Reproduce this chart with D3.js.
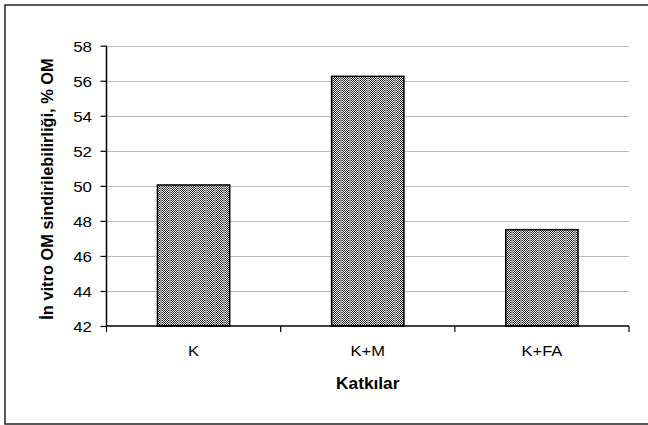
<!DOCTYPE html>
<html><head><meta charset="utf-8">
<script src="https://cdn.jsdelivr.net/npm/d3@7"></script>
<style>html,body{margin:0;padding:0;background:#fff;}svg{display:block;font-family:Arial,"Liberation Sans",sans-serif;}</style>
</head><body>
<svg id="c" width="648" height="425"></svg>
<script>
const categories = ["K", "K+M", "K+FA"];
const values = [50.05, 56.25, 47.5];
const yTicks = [42, 44, 46, 48, 50, 52, 54, 56, 58];
const yLabel = "İn vitro OM sindirilebilirliği, % OM";
const xLabel = "Katkılar";

const svg = d3.select("#c");
const L = 106.5, R = 629, T = 45.7, B = 326;
const FF = "Arial,'Liberation Sans',sans-serif";

// pattern
const defs = svg.append("defs");
const pat = defs.append("pattern").attr("id","pt").attr("patternUnits","userSpaceOnUse")
  .attr("width",9).attr("height",2);
pat.append("rect").attr("width",9).attr("height",2).attr("fill","#fff");
for (let x=0;x<7;x++){
  pat.append("rect").attr("x",x).attr("y",(x%2)).attr("width",1).attr("height",1).attr("fill","#222");
}
pat.append("rect").attr("x",7).attr("y",0).attr("width",2).attr("height",2).attr("fill","#9a9a9a");

// outer border
svg.append("rect").attr("x",5).attr("y",5).attr("width",660).attr("height",419)
  .attr("fill","none").attr("stroke","#222").attr("stroke-width",1.5);

const x = d3.scaleBand().domain(categories).range([L,R]).paddingInner(0.585).paddingOuter(0.2925);
const y = d3.scaleLinear().domain([42,58]).range([B,T]);

// gridlines
svg.append("g").selectAll("line").data(yTicks.filter(t=>t>42)).join("line")
  .attr("x1",L).attr("x2",R).attr("y1",d=>Math.round(y(d))+0.5).attr("y2",d=>Math.round(y(d))+0.5)
  .attr("stroke","#777").attr("stroke-dasharray","1,1").attr("stroke-width",1);

// bars
svg.append("g").selectAll("rect").data(categories).join("rect")
  .attr("x",d=>x(d)).attr("width",x.bandwidth())
  .attr("y",(d,i)=>y(values[i])).attr("height",(d,i)=>y(42)-y(values[i]))
  .attr("fill","url(#pt)").attr("stroke","#000").attr("stroke-width",1.5);

// y axis
const ya = svg.append("g").attr("transform",`translate(${L},0)`)
  .call(d3.axisLeft(y).tickValues(yTicks).tickSize(6).tickPadding(14).tickFormat(d3.format("d")));
ya.attr("font-size",null).attr("font-family",null);
ya.select(".domain").attr("stroke","#000").attr("stroke-width",1.5).attr("d",`M0,${B}V${T}`);
ya.selectAll(".tick line").attr("stroke","#000").attr("stroke-width",1.2);
ya.selectAll(".tick text").attr("x",null).attr("dy",null)
  .attr("transform","translate(-14.5,5.5) scale(1.13,1)")
  .style("font-size","15px").attr("fill","#000").style("font-family",FF);

// x axis
const xBounds = [L, L+(R-L)/3, L+2*(R-L)/3, R];
const xa = svg.append("g").attr("transform",`translate(0,${B})`);
xa.append("line").attr("x1",L).attr("x2",R).attr("stroke","#000").attr("stroke-width",1.5);
xa.selectAll("line.t").data(xBounds).join("line").attr("class","t")
  .attr("x1",d=>d).attr("x2",d=>d).attr("y1",0).attr("y2",6).attr("stroke","#000").attr("stroke-width",1.2);
xa.selectAll("text").data(categories).join("text")
  .attr("transform",d=>`translate(${x(d)+x.bandwidth()/2},29.5) scale(1.1,1)`).attr("text-anchor","middle")
  .style("font-size","15px").style("font-family",FF).attr("fill","#000").text(d=>d);

// axis titles
svg.append("text").attr("transform",`translate(${(L+R)/2},388.5) scale(1.08,1)`).attr("text-anchor","middle")
  .style("font-size","16px").style("font-family",FF).attr("font-weight","bold").text(xLabel);
svg.append("text").attr("transform",`translate(53,189) rotate(-90)`).attr("text-anchor","middle")
  .style("font-size","16.4px").style("font-family",FF).attr("font-weight","bold").text(yLabel);
</script>
</body></html>
